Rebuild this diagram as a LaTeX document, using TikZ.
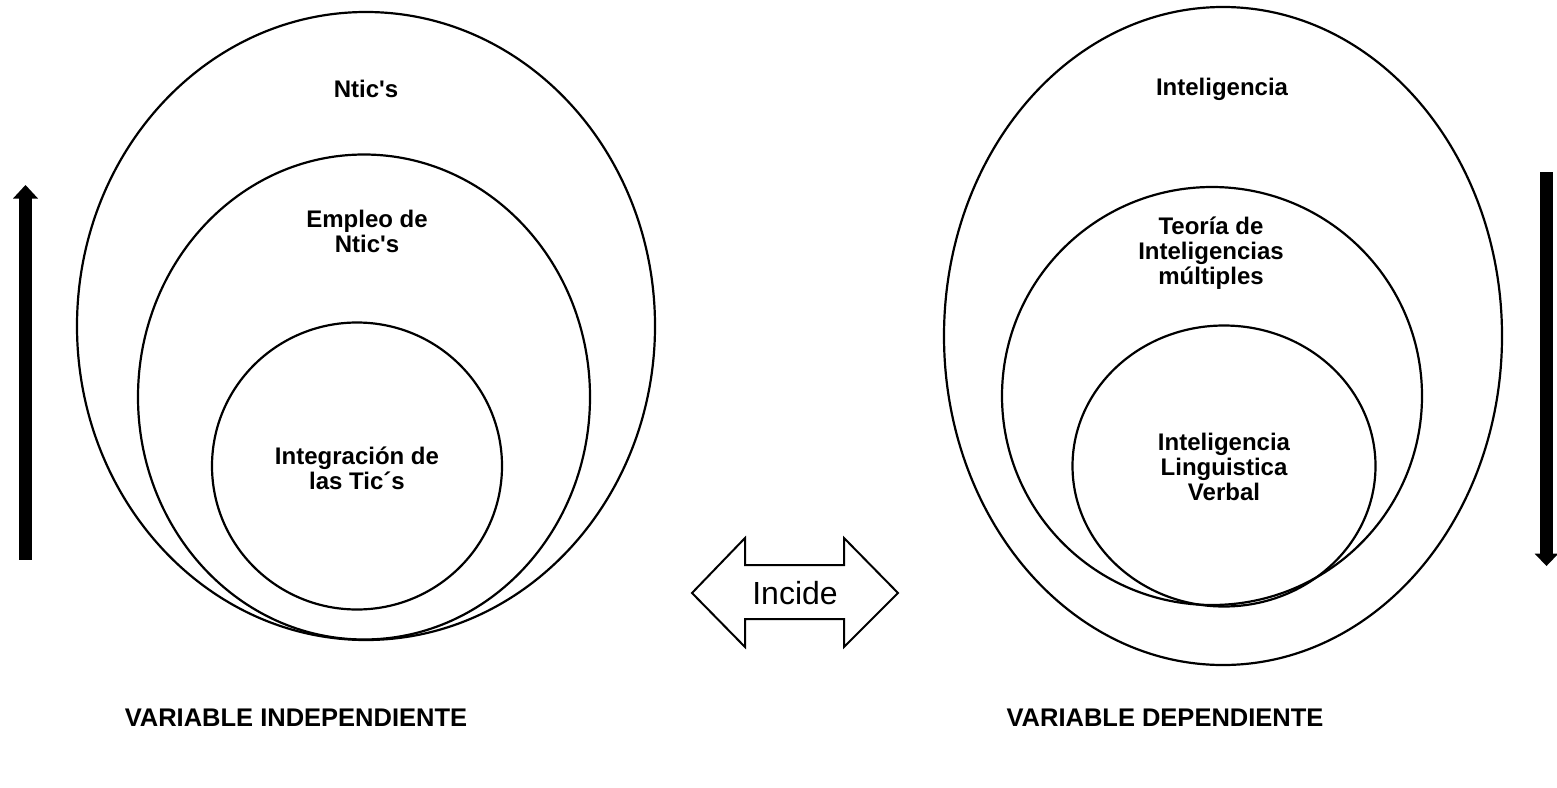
\documentclass[tikz,border=0pt]{standalone}
\usepackage{fontspec}
\setmainfont{Liberation Sans}
\usetikzlibrary{shapes.geometric}
\tikzset{
  ring/.style={ellipse, draw=black, line width=2.2pt, inner sep=0pt, fill=none},
  lbl/.style={align=center, inner sep=0pt, font=\bfseries\fontsize{24}{25}\selectfont},
  varlbl/.style={inner sep=0pt, font=\bfseries\fontsize{25.5}{28}\selectfont},
  bigarrow/.style={fill=black, draw=none},
  dblarrow/.style={draw=black, line width=2pt, fill=white, line join=miter}
}
\begin{document}
\begin{tikzpicture}[x=1pt,y=-1pt]
\useasboundingbox (0,0) rectangle (1557,787);
\fill[white] (0,0) rectangle (1557,787);

% left set of ellipses
\node[ring, minimum width=578pt, minimum height=628pt] (ntics) at (366,326) {};
\node[ring, minimum width=452pt, minimum height=485pt] (empleo) at (364,397) {};
\node[ring, minimum width=290pt, minimum height=287pt] (integ) at (357,466) {};

% right set of ellipses
\node[ring, minimum width=558pt, minimum height=658pt] (intel) at (1223,336) {};
\node[ring, minimum width=420pt, minimum height=418pt] (teoria) at (1212,396) {};
\node[ring, minimum width=303pt, minimum height=281pt] (ling) at (1224,466) {};

% labels inside
\node[lbl] (tntics) at (366,89) {Ntic\textquotesingle s};
\node[lbl] (templeo) at (367,231) {Empleo de\\Ntic\textquotesingle s};
\node[lbl] (tinteg) at (357,468) {Integración de\\las Tic´s};
\node[lbl] (tintel) at (1222,89) {Inteligencia};
\node[lbl] (tteoria) at (1211,253) {Teoría de\\Inteligencias\\múltiples};
\node[lbl] (tling) at (1224,467) {Inteligencia\\Linguistica\\Verbal};

% vertical arrows
\node[bigarrow, minimum width=13pt, minimum height=362pt, inner sep=0pt] (upshaft) at (25.5,379) {};
\fill[black] (13,198.5) -- (38,198.5) -- (25.5,185) -- cycle;
\node[bigarrow, minimum width=13pt, minimum height=382pt, inner sep=0pt] (downshaft) at (1546.5,363) {};
\fill[black] (1534.5,553.5) -- (1558.5,553.5) -- (1546.5,566) -- cycle;

% double arrow
\draw[dblarrow] (692,593) -- (745,538) -- (745,565) -- (844,565) -- (844,538)
  -- (898,593) -- (844,647) -- (844,619) -- (745,619) -- (745,647) -- cycle;
\node[inner sep=0pt, font=\fontsize{32}{34}\selectfont] (incide) at (795,593) {Incide};

% bottom labels
\node[varlbl] (vind) at (296,718) {VARIABLE INDEPENDIENTE};
\node[varlbl] (vdep) at (1165,718) {VARIABLE DEPENDIENTE};
\end{tikzpicture}
\end{document}
